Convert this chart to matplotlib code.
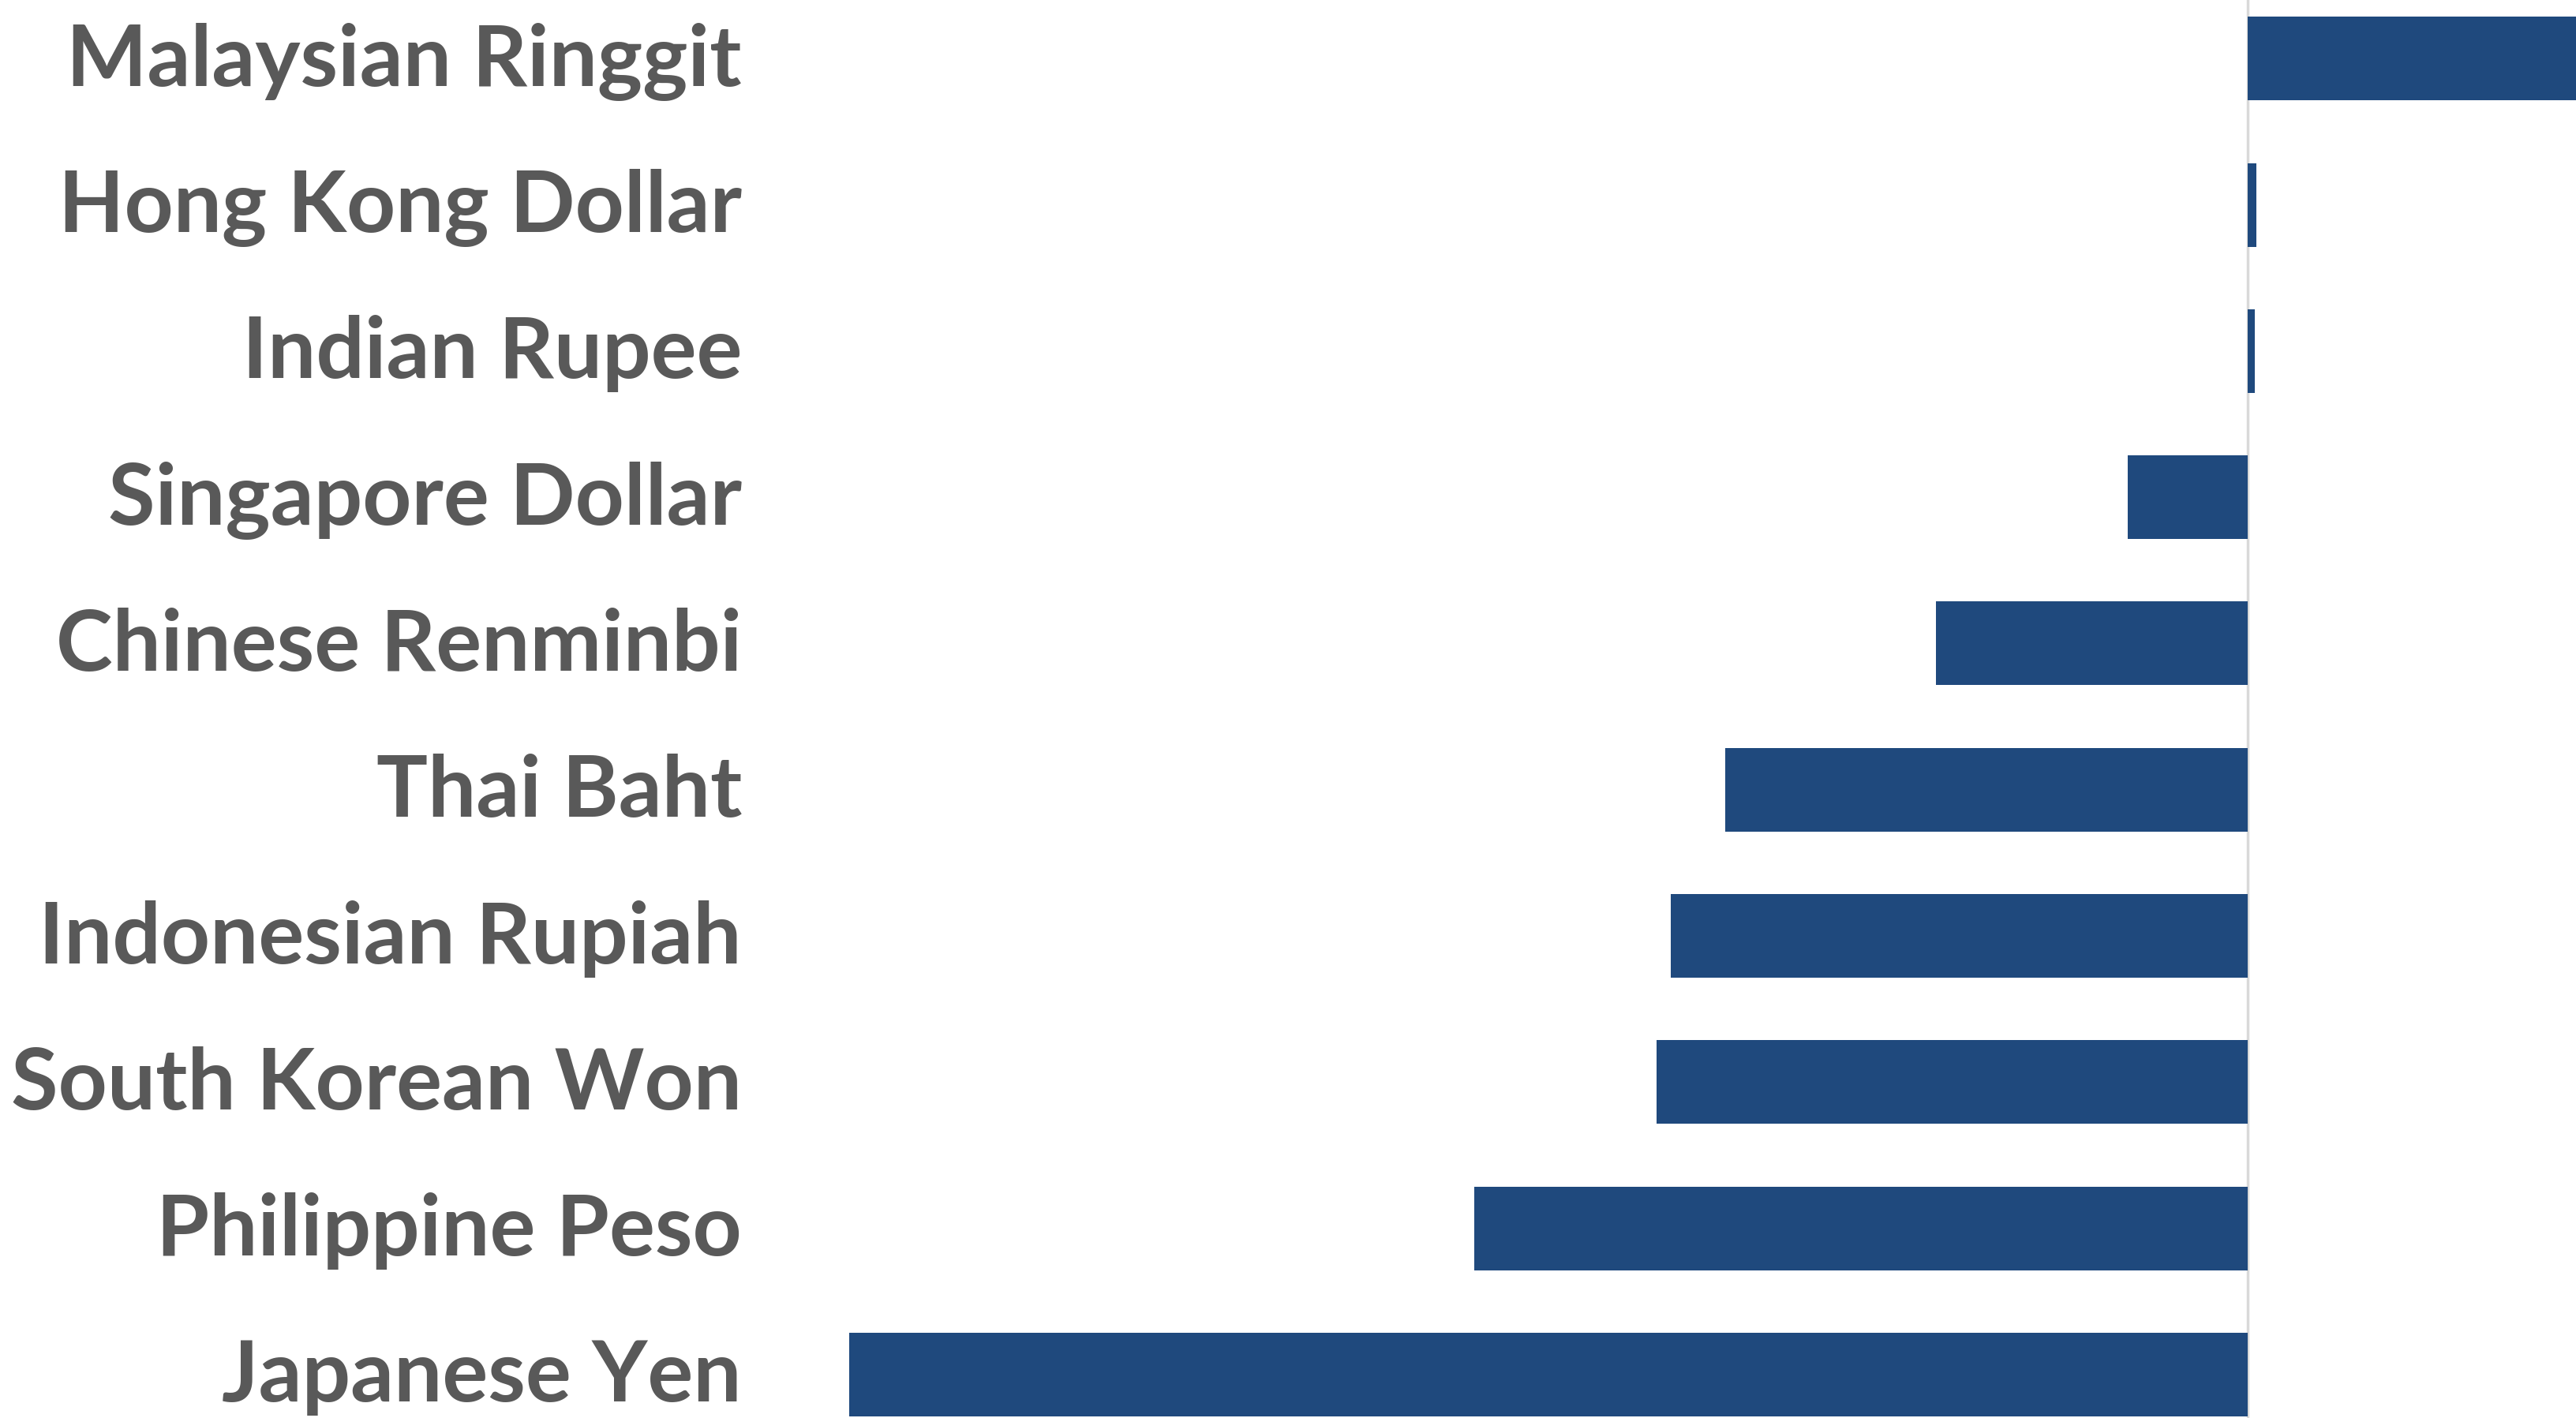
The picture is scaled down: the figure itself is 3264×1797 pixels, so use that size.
import matplotlib.pyplot as plt
import matplotlib.transforms as mtransforms

# currency change, bottom to top
currencies = ["Japanese Yen", "Philippine Peso", "South Korean Won", "Indonesian Rupiah",
              "Thai Baht", "Chinese Renminbi", "Singapore Dollar", "Indian Rupee",
              "Hong Kong Dollar", "Malaysian Ringgit"]
changes = [-11.0, -6.08, -4.65, -4.54, -4.11, -2.45, -0.94, 0.06, 0.07, 3.0]

plt.rcParams['font.family'] = ['Lato', 'DejaVu Sans']

fig = plt.figure(figsize=(32.64, 17.97), dpi=100)
ax = fig.add_axes([1076 / 3264, 0, 1 - 1076 / 3264, 1])

ypos = range(len(currencies))
ax.barh(ypos, changes, height=0.572, color="#1F497D", zorder=2)
ax.axvline(0, color="#d9d9d9", linewidth=2.5, zorder=1)

ax.set_xlim(-11.0, 2.584)
ax.set_ylim(-0.297, 9.401)

ax.set_yticks(list(ypos))
ax.set_yticklabels(currencies, fontsize=78, fontweight="bold", color="#595959")
ax.tick_params(axis="y", length=0, pad=98)
ax.tick_params(axis="x", bottom=False, labelbottom=False)
# nudge labels up slightly
shift = mtransforms.ScaledTranslation(0, 4 / 72, fig.dpi_scale_trans)
for lbl in ax.get_yticklabels():
    lbl.set_transform(lbl.get_transform() + shift)
for s in ax.spines.values():
    s.set_visible(False)

fig.savefig("out.png", dpi=100)
